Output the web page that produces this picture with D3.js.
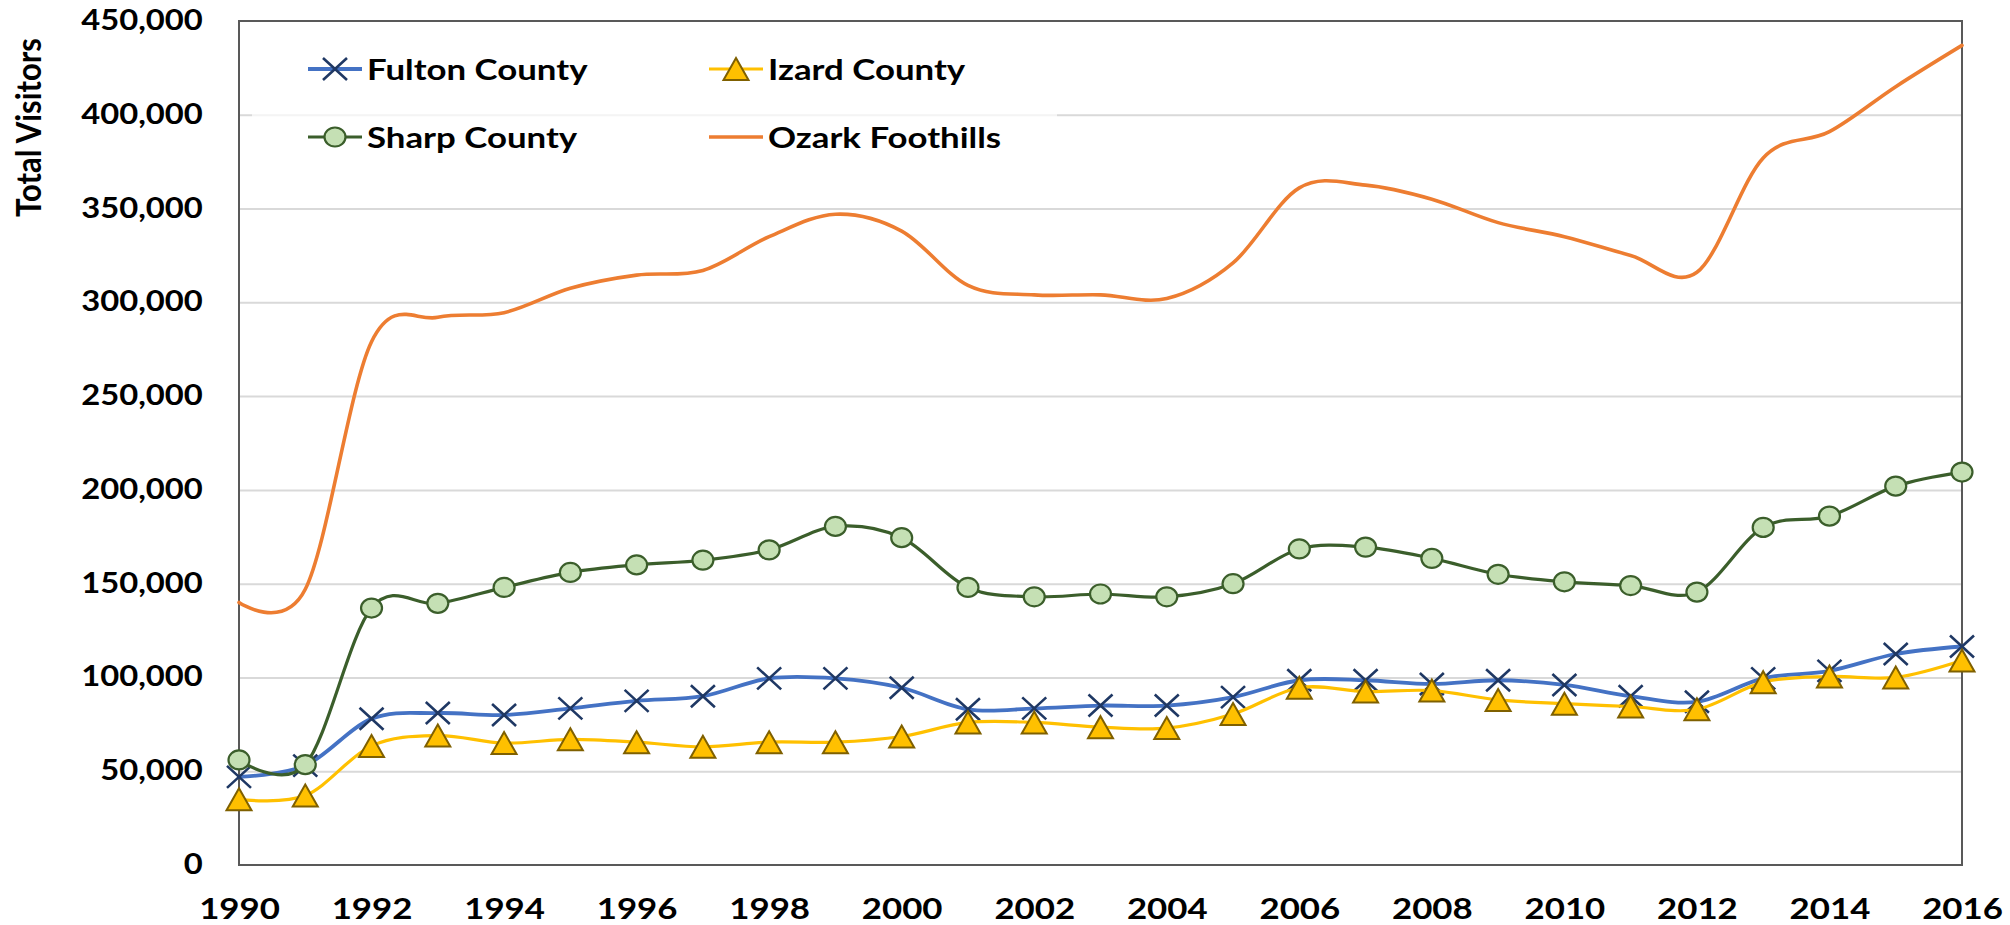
<!DOCTYPE html>
<html>
<head>
<meta charset="utf-8">
<script src="https://cdn.jsdelivr.net/npm/d3@7/dist/d3.min.js"></script>
<style>
  html, body { margin: 0; padding: 0; background: #ffffff; }
  svg { display: block; }
  text { font-family: "Lato", "Open Sans", sans-serif; font-weight: 700; fill: #000; }
</style>
</head>
<body>
<svg id="chart" width="2010" height="925"></svg>
<script>
// ---- data ----
const years = [1990, 1991, 1992, 1993, 1994, 1995, 1996, 1997, 1998, 1999, 2000, 2001, 2002,
               2003, 2004, 2005, 2006, 2007, 2008, 2009, 2010, 2011, 2012, 2013, 2014, 2015, 2016];
const fulton = [47000, 53000, 78000, 81000, 80000, 83500, 87500, 90000, 99500, 99500, 94500, 83000, 83500,
                85000, 85000, 89500, 98500, 98500, 96500, 98500, 96000, 90000, 87000, 99500, 103500, 112500, 116500];
const izard  = [35000, 37000, 63500, 69000, 65000, 67000, 65500, 63000, 65500, 65500, 68500, 76000, 76000,
                73500, 73000, 80500, 94500, 92500, 93000, 88000, 86000, 84500, 83000, 97500, 100500, 100000, 109000];
const sharp  = [56000, 53500, 137000, 139500, 148000, 156000, 160000, 162500, 168000, 180500, 174500, 148000, 143000,
                144500, 143000, 150000, 168500, 169500, 163500, 155000, 151000, 149000, 145500, 180000, 186000, 202000, 209500];
const ozark  = [140000, 147000, 279000, 292000, 294500, 307500, 314500, 317000, 335000, 347000, 338000, 309000, 304000,
                304000, 302000, 321000, 361000, 362500, 355000, 342500, 335000, 325000, 316000, 377000, 391000, 415000, 437000];
const yTicks = [0, 50000, 100000, 150000, 200000, 250000, 300000, 350000, 400000, 450000];
const xTicks = [1990, 1992, 1994, 1996, 1998, 2000, 2002, 2004, 2006, 2008, 2010, 2012, 2014, 2016];
const seriesNames = ["Fulton County", "Izard County", "Sharp County", "Ozark Foothills"];
const yTitle = "Total Visitors";

// ---- layout ----
const L = 239, T = 21, R = 1962, B = 865;
const SXY = 1.13, SXX = 1.2, SXL = 1.2; // horizontal text stretch
const FONT = "Lato, 'Open Sans', sans-serif";
const svg = d3.select("#chart");

const x = d3.scaleLinear().domain([1990, 2016]).range([L, R]);
const y = d3.scaleLinear().domain([0, 450000]).range([B, T]);

// gridlines
svg.append("g")
  .attr("transform", `translate(${L},0)`)
  .call(d3.axisLeft(y).tickValues(yTicks.slice(1, -1)).tickSize(-(R - L)).tickFormat(""))
  .call(g => g.select(".domain").remove())
  .call(g => g.selectAll("line").attr("stroke", "#D9D9D9").attr("stroke-width", 2));

// legend background (semi-transparent)
svg.append("rect").attr("x", 252).attr("y", 35).attr("width", 805).attr("height", 135)
  .attr("fill", "#fff").attr("opacity", 0.7);

// y axis labels
svg.append("g")
  .attr("transform", `translate(${L},0)`)
  .call(d3.axisLeft(y).tickValues(yTicks).tickSize(0).tickFormat(d3.format(",")))
  .call(g => g.select(".domain").remove())
  .call(g => g.selectAll("text")
      .attr("x", -32).attr("dy", 8.5)
      .attr("transform", `scale(${SXY},1)`)
      .style("font-size", "29px").style("font-family", FONT)
      .style("font-weight", 700).attr("fill", "#000"));

// x axis labels
svg.append("g")
  .attr("transform", `translate(0,${B})`)
  .call(d3.axisBottom(x).tickValues(xTicks).tickSize(0).tickFormat(d3.format("d")))
  .call(g => g.select(".domain").remove())
  .call(g => g.selectAll("text")
      .attr("y", 54).attr("dy", 0)
      .attr("transform", `scale(${SXX},1)`)
      .style("font-size", "29px").style("font-family", FONT)
      .style("font-weight", 700).attr("fill", "#000"));

// plot frame
svg.append("rect").attr("x", L).attr("y", T).attr("width", R - L).attr("height", B - T)
  .attr("fill", "none").attr("stroke", "#595959").attr("stroke-width", 2);

// y title
svg.append("text")
  .attr("transform", `translate(40.5,127.5) rotate(-90) scale(1,1.12)`)
  .attr("text-anchor", "middle")
  .style("font-size", "31px")
  .text(yTitle);

// ---- series ----
const curve = d3.curveCardinal.tension(0);
const lineGen = vals => d3.line().curve(curve).x((d, i) => x(years[i])).y(d => y(d))(vals);

const styles = {
  fulton: { line: "#4472C4", w: 3.8 },
  izard:  { line: "#FFC000", w: 3.2 },
  sharp:  { line: "#3B5E2B", w: 3.2 },
  ozark:  { line: "#ED7D31", w: 3.6 }
};

function xMarker(g, cx, cy) {
  const hx = 12, hy = 11;
  g.append("path")
    .attr("d", `M${cx - hx},${cy - hy}L${cx + hx},${cy + hy}M${cx - hx},${cy + hy}L${cx + hx},${cy - hy}`)
    .attr("stroke", "#1F3864").attr("stroke-width", 2.6).attr("fill", "none");
}
function triMarker(g, cx, cy) {
  const hw = 12.5, hh = 11;
  g.append("path")
    .attr("d", `M${cx},${cy - hh}L${cx + hw},${cy + hh}L${cx - hw},${cy + hh}Z`)
    .attr("fill", "#FFC000").attr("stroke", "#7F6000").attr("stroke-width", 2);
}
function circMarker(g, cx, cy) {
  g.append("ellipse").attr("cx", cx).attr("cy", cy).attr("rx", 10.5).attr("ry", 9.5)
    .attr("fill", "#C5E0B4").attr("stroke", "#3B5E2B").attr("stroke-width", 2.2);
}

const series = [
  { key: "fulton", vals: fulton, marker: xMarker },
  { key: "izard", vals: izard, marker: triMarker },
  { key: "sharp", vals: sharp, marker: circMarker },
  { key: "ozark", vals: ozark, marker: null }
];

series.forEach(s => {
  const g = svg.append("g");
  g.append("path").attr("d", lineGen(s.vals)).attr("fill", "none")
    .attr("stroke", styles[s.key].line).attr("stroke-width", styles[s.key].w)
    .attr("stroke-linejoin", "round").attr("stroke-linecap", "round");
  if (s.marker) s.vals.forEach((v, i) => s.marker(g, x(years[i]), y(v)));
});

// ---- legend ----
const legendItems = [
  { name: seriesNames[0], key: "fulton", marker: xMarker, lx: 308, ly: 69 },
  { name: seriesNames[1], key: "izard", marker: triMarker, lx: 709, ly: 69 },
  { name: seriesNames[2], key: "sharp", marker: circMarker, lx: 308, ly: 137 },
  { name: seriesNames[3], key: "ozark", marker: null, lx: 709, ly: 137 }
];
legendItems.forEach(it => {
  const g = svg.append("g");
  g.append("line").attr("x1", it.lx).attr("x2", it.lx + 54).attr("y1", it.ly).attr("y2", it.ly)
    .attr("stroke", styles[it.key].line).attr("stroke-width", styles[it.key].w);
  if (it.marker) it.marker(g, it.lx + 27, it.ly);
  g.append("text")
    .attr("transform", `translate(${it.lx + 59},${it.ly + 10.5}) scale(${SXL},1)`)
    .style("font-size", "29px")
    .text(it.name);
});
</script>
</body>
</html>
